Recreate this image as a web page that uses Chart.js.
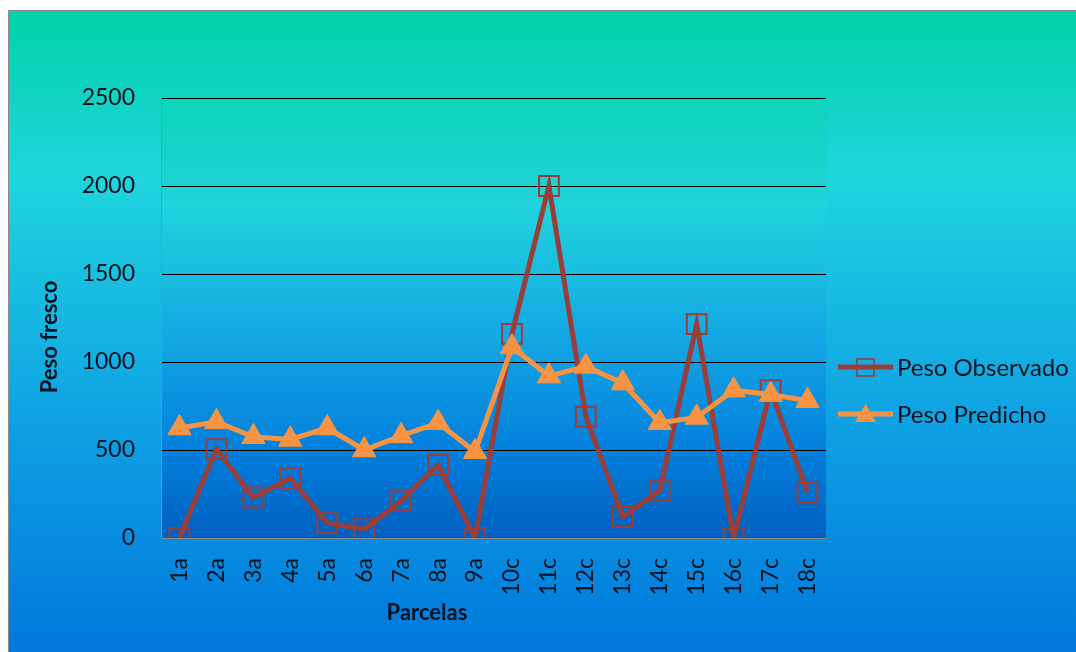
<!DOCTYPE html>
<html>
<head>
<meta charset="utf-8">
<script src="https://cdn.jsdelivr.net/npm/chart.js@4"></script>
<style>
  html, body { margin: 0; padding: 0; background: #fff; }
  #wrap { width: 1076px; height: 652px; }
</style>
</head>
<body>
<div id="wrap"><canvas id="chart" width="1076" height="652"></canvas></div>
<script>
const parcelas = ['1a','2a','3a','4a','5a','6a','7a','8a','9a','10c','11c','12c','13c','14c','15c','16c','17c','18c'];
const pesoObservado = [0, 505, 230, 340, 85, 50, 210, 415, 0, 1160, 2000, 690, 120, 270, 1215, 0, 840, 260];
const pesoPredicho = [625, 660, 575, 560, 625, 500, 580, 655, 490, 1085, 920, 975, 880, 655, 685, 840, 815, 780];
const yTicks = [0, 500, 1000, 1500, 2000, 2500];

const brown = '#9b3d38';
const orange = '#f79443';
const font = 'Lato, "Liberation Sans", sans-serif';
const textColor = '#06121e';

// backgrounds, legend and axis titles
const bgPlugin = {
    id: 'bg',
    beforeDraw(chart) {
        const ctx = chart.ctx;
        const a = chart.chartArea;
        ctx.save();
        ctx.fillStyle = '#fff';
        ctx.fillRect(0, 0, chart.width, chart.height);
        let g = ctx.createLinearGradient(0, 10, 0, chart.height);
        g.addColorStop(0, '#02d2a8');
        g.addColorStop(0.26, '#1fd5dd');
        g.addColorStop(0.6, '#11a6e4');
        g.addColorStop(1, '#0078dc');
        ctx.fillStyle = g;
        ctx.fillRect(8, 10, chart.width - 8, chart.height - 10);
        ctx.strokeStyle = '#8a8a8a';
        ctx.lineWidth = 1;
        ctx.strokeRect(8.5, 10.5, chart.width, chart.height);
        g = ctx.createLinearGradient(0, a.top, 0, a.bottom);
        g.addColorStop(0, '#0cd5b8');
        g.addColorStop(0.25, '#20d3dc');
        g.addColorStop(0.55, '#13a6e4');
        g.addColorStop(0.8, '#037fdc');
        g.addColorStop(1, '#0060c0');
        ctx.fillStyle = g;
        ctx.fillRect(a.left, a.top, a.right - a.left, a.bottom - a.top);
        ctx.restore();
    },
    afterDraw(chart) {
        const ctx = chart.ctx;
        ctx.save();
        // axis titles
        ctx.fillStyle = textColor;
        ctx.font = 'bold 22px ' + font;
        ctx.textAlign = 'center';
        ctx.textBaseline = 'middle';
        ctx.fillText('Parcelas', 427, 613);
        ctx.save();
        ctx.translate(50, 337);
        ctx.rotate(-Math.PI / 2);
        ctx.fillText('Peso fresco', 0, 0);
        ctx.restore();

        // legend
        const items = [
            { text: 'Peso Observado', color: brown, marker: 'rect' },
            { text: 'Peso Predicho', color: orange, marker: 'tri' }
        ];
        ctx.font = '24px ' + font;
        ctx.textAlign = 'left';
        items.forEach((it, i) => {
            const y = 367 + i * 47;
            ctx.strokeStyle = it.color;
            ctx.lineWidth = 5;
            ctx.beginPath();
            ctx.moveTo(838, y);
            ctx.lineTo(893, y);
            ctx.stroke();
            if (it.marker === 'rect') {
                ctx.lineWidth = 1.5;
                ctx.strokeRect(857, y - 8, 17, 17);
            } else {
                ctx.fillStyle = it.color;
                ctx.beginPath();
                ctx.moveTo(865.5, y - 10);
                ctx.lineTo(876, y + 8);
                ctx.lineTo(855, y + 8);
                ctx.closePath();
                ctx.fill();
            }
            ctx.fillStyle = textColor;
            ctx.fillText(it.text, 897, y + 1);
        });
        ctx.restore();
    }
};

new Chart(document.getElementById('chart'), {
    type: 'line',
    data: {
        labels: parcelas,
        datasets: [
            {
                label: 'Peso Observado',
                data: pesoObservado,
                borderColor: brown,
                borderWidth: 5,
                pointStyle: 'rect',
                pointRadius: 14,
                pointBorderWidth: 2,
                pointBorderColor: brown,
                pointBackgroundColor: 'rgba(0,0,0,0)',
                order: 1,
                tension: 0
            },
            {
                label: 'Peso Predicho',
                data: pesoPredicho,
                borderColor: orange,
                borderWidth: 5,
                pointStyle: 'triangle',
                pointRadius: 13.5,
                pointBorderWidth: 1,
                pointBorderColor: orange,
                pointBackgroundColor: orange,
                order: 0,
                tension: 0
            }
        ]
    },
    options: {
        responsive: false,
        animation: false,
        layout: { padding: { top: 98, right: 250, left: 30, bottom: 24 } },
        plugins: {
            legend: { display: false },
            tooltip: { enabled: false }
        },
        scales: {
            x: {
                offset: true,
                grid: { display: false, drawTicks: false },
                border: { display: true, color: '#8a8a8a', width: 1 },
                ticks: {
                    maxRotation: 90, minRotation: 90,
                    padding: 20,
                    color: textColor,
                    font: { family: font, size: 23 }
                },
                afterFit: s => { s.height = 652 - 538 - 24; }
            },
            y: {
                min: 0, max: 2500,
                afterBuildTicks: s => { s.ticks = yTicks.map(v => ({ value: v })); },
                grid: {
                    color: c => c.tick && c.tick.value === 0 ? 'rgba(0,0,0,0)' : '#000',
                    lineWidth: 1,
                    drawTicks: false
                },
                border: { display: true, color: '#8a8a8a', width: 1 },
                ticks: {
                    padding: 26,
                    color: textColor,
                    font: { family: font, size: 23 },
                    callback: v => String(v)
                },
                afterFit: s => { s.width = 161 - 30; }
            }
        }
    },
    plugins: [bgPlugin]
});
</script>
</body>
</html>
